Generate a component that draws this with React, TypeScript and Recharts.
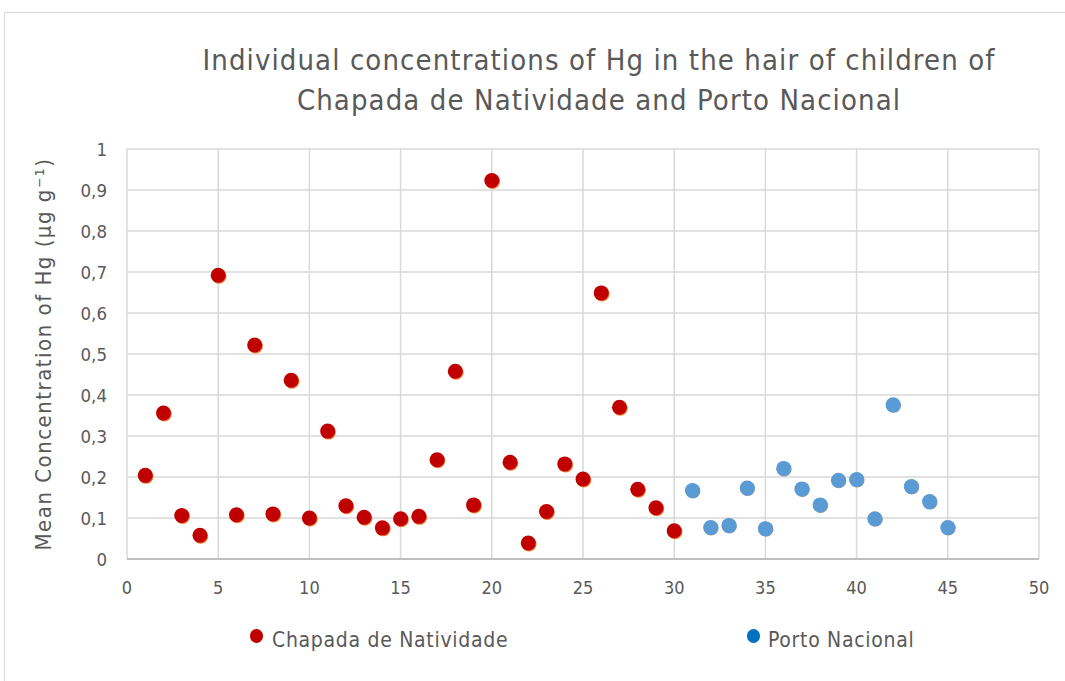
import React from "react";
import {
  CartesianGrid,
  Legend,
  Scatter,
  ScatterChart,
  XAxis,
  YAxis,
} from "recharts";

const chapadaChild = [1, 2, 3, 4, 5, 6, 7, 8, 9, 10, 11, 12, 13, 14, 15, 16, 17, 18, 19, 20, 21, 22, 23, 24, 25, 26, 27, 28, 29, 30];
const chapadaHg = [0.204, 0.356, 0.106, 0.058, 0.692, 0.108, 0.522, 0.11, 0.436, 0.1, 0.312, 0.13, 0.102, 0.076, 0.098, 0.104, 0.242, 0.458, 0.132, 0.923, 0.236, 0.039, 0.116, 0.232, 0.195, 0.649, 0.37, 0.17, 0.125, 0.069];

const portoChild = [31, 32, 33, 34, 35, 36, 37, 38, 39, 40, 41, 42, 43, 44, 45];
const portoHg = [0.167, 0.077, 0.082, 0.173, 0.074, 0.221, 0.171, 0.132, 0.192, 0.194, 0.098, 0.376, 0.177, 0.14, 0.077];

const xTicks = [0, 5, 10, 15, 20, 25, 30, 35, 40, 45, 50];
const yTicks = [0, 0.1, 0.2, 0.3, 0.4, 0.5, 0.6, 0.7, 0.8, 0.9, 1];

const FONT = "'Liberation Sans Narrow', 'DejaVu Sans Condensed', 'Open Sans', sans-serif";
const TEXT = "#595959";

const chapada = chapadaChild.map((x, i) => ({ x, y: chapadaHg[i] }));
const porto = portoChild.map((x, i) => ({ x, y: portoHg[i] }));

const RedDot = (props: any) => (
  <g>
    <circle cx={props.cx + 0.8} cy={props.cy + 1} r={7.5} fill="#ED7D31" />
    <circle cx={props.cx} cy={props.cy} r={7.5} fill="#C00000" />
  </g>
);

const BlueDot = (props: any) => (
  <g>
    <circle cx={props.cx + 0.5} cy={props.cy + 0.5} r={7.5} fill="#8a9aa8" />
    <circle cx={props.cx} cy={props.cy} r={7.5} fill="#5B9BD5" />
  </g>
);

const fmt = (v: number) => (v === 0 || v === 1 ? String(v) : v.toFixed(1).replace(".", ","));

const LegendBox = () => (
  <div style={{ position: "relative", width: 1065, height: 40, fontFamily: FONT, fontSize: 21, letterSpacing: 0.7, color: TEXT }}>
    <span style={{ position: "absolute", left: 250, top: 9, width: 13, height: 14, borderRadius: 7, background: "#C00000" }} />
    <span style={{ position: "absolute", left: 272, top: 8 }}>Chapada de Natividade</span>
    <span style={{ position: "absolute", left: 747, top: 9, width: 13, height: 14, borderRadius: 7, background: "#0070C0" }} />
    <span style={{ position: "absolute", left: 768, top: 8 }}>Porto Nacional</span>
  </div>
);

export default function App() {
  return (
    <div style={{ position: "absolute", left: 0, top: 0, width: 1065, height: 681, overflow: "hidden", background: "#fff" }}>
      <div style={{ position: "absolute", left: 4, top: 12, width: 1080, height: 700, border: "1px solid #D9D9D9" }} />
      <div
        style={{
          position: "absolute",
          left: 0,
          top: 40,
          width: 1065,
          paddingLeft: 133,
          boxSizing: "border-box",
          textAlign: "center",
          fontFamily: FONT,
          fontSize: 29,
          letterSpacing: 1.1,
          lineHeight: "40px",
          color: TEXT,
        }}
      >
        Individual concentrations of Hg in the hair of children of
        <br />
        Chapada de Natividade and Porto Nacional
      </div>
      <div style={{ position: "absolute", left: 0, top: 0 }}>
        <ScatterChart width={1065} height={681} margin={{ top: 149, right: 26, bottom: 52, left: 67 }}>
          <CartesianGrid stroke="#D9D9D9" strokeWidth={1.5} horizontalValues={yTicks} verticalValues={xTicks} />
          <XAxis
            type="number"
            dataKey="x"
            domain={[0, 50]}
            ticks={xTicks}
            interval={0}
            height={30}
            axisLine={{ stroke: "#BFBFBF", strokeWidth: 2 }}
            tickLine={false}
            tickMargin={16}
            tick={{ fill: TEXT, fontSize: 18, fontFamily: FONT }}
          />
          <YAxis
            type="number"
            dataKey="y"
            domain={[0, 1]}
            ticks={yTicks}
            interval={0}
            width={60}
            axisLine={false}
            tickLine={false}
            tickMargin={14}
            tickFormatter={fmt}
            tick={{ fill: TEXT, fontSize: 18.5, fontFamily: FONT }}
            label={{
              value: "Mean Concentration of Hg (µg g⁻¹)",
              angle: -90,
              position: "insideLeft",
              offset: -24,
              style: { fill: TEXT, fontSize: 22, letterSpacing: 1.5, fontFamily: FONT, textAnchor: "middle" },
            }}
          />
          <Legend
            layout="vertical"
            align="center"
            verticalAlign="bottom"
            wrapperStyle={{ left: 0, top: 620, width: 1065 }}
            content={() => <LegendBox />}
          />
          <Scatter name="Chapada de Natividade" data={chapada} shape={RedDot} isAnimationActive={false} />
          <Scatter name="Porto Nacional" data={porto} shape={BlueDot} isAnimationActive={false} />
        </ScatterChart>
      </div>
    </div>
  );
}
